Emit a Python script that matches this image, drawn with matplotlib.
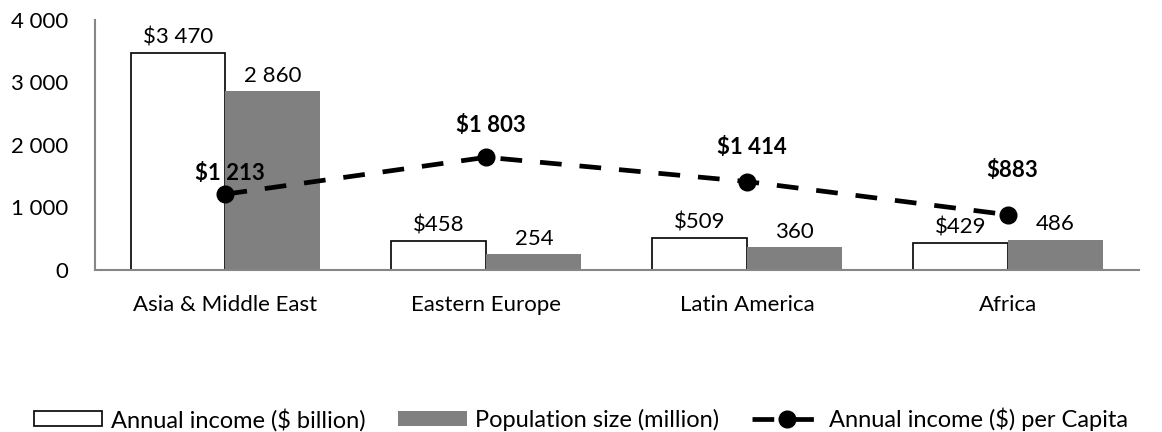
import matplotlib
matplotlib.use("Agg")
import matplotlib.pyplot as plt
import numpy as np
from matplotlib.patches import Patch
from matplotlib.lines import Line2D

regions = ["Asia & Middle East", "Eastern Europe", "Latin America", "Africa"]
income_bn = [3470, 458, 509, 429]
population_m = [2860, 254, 360, 486]
income_per_capita = [1213, 1803, 1414, 883]
y_ticks = [0, 1000, 2000, 3000, 4000]

# vertical gap (points) between each per-capita marker and its label
per_capita_label_gap = [7, 15, 17, 24]


def spaced(v):
    return f"{v:,}".replace(",", " ")


plt.rcParams["font.family"] = ["Lato", "DejaVu Sans"]
plt.rcParams["font.size"] = 16

fig = plt.figure(figsize=(11.62, 4.32), dpi=100)
ax = fig.add_axes([0.0818, 0.375, 0.898, 0.579])

x = np.arange(len(regions))
w = 0.364
axis_grey = "#868686"
bar_grey = "#808080"
line_kw = dict(color="black", lw=3.4, dashes=(4.6, 3.8), dash_capstyle="butt",
               marker="o", markersize=12)

ax.bar(x - w / 2, income_bn, w, color="white", edgecolor="black", linewidth=1.2, zorder=2)
ax.bar(x + w / 2, population_m, w, color=bar_grey, edgecolor="none", zorder=2)
ax.plot(x, income_per_capita, zorder=4, **line_kw)

for xi, v in zip(x, income_bn):
    ax.annotate("$" + spaced(v), (xi - w / 2, v), xytext=(0, 4), textcoords="offset points",
                ha="center", va="bottom")
for xi, v in zip(x, population_m):
    ax.annotate(spaced(v), (xi + w / 2, v), xytext=(0, 4), textcoords="offset points",
                ha="center", va="bottom")
for xi, v, gap in zip(x, income_per_capita, per_capita_label_gap):
    ax.annotate("$" + spaced(v), (xi, v), xytext=(3, gap), textcoords="offset points",
                ha="center", va="bottom", fontweight="bold")

ax.set_xlim(-0.5, len(regions) - 0.5)
ax.set_ylim(0, 4000)
ax.set_yticks(y_ticks)
ax.set_yticklabels([spaced(t) for t in y_ticks])
ax.set_xticks(x)
ax.set_xticklabels(regions)
ax.tick_params(axis="both", length=0)
ax.tick_params(axis="x", pad=18)
ax.tick_params(axis="y", pad=19)
for s in ("top", "right"):
    ax.spines[s].set_visible(False)
for s in ("left", "bottom"):
    ax.spines[s].set_color(axis_grey)
    ax.spines[s].set_linewidth(1.5)

handles = [
    Patch(facecolor="white", edgecolor="black", linewidth=1.2),
    Patch(facecolor=bar_grey, edgecolor="none"),
    Line2D([], [], **line_kw),
]
labels = ["Annual income ($ billion)", "Population size (million)", "Annual income ($) per Capita"]
fig.legend(handles, labels, loc="center", bbox_to_anchor=(0.5, 0.029), ncol=3,
           frameon=False, handlelength=2.9, handleheight=0.6, handletextpad=0.36,
           columnspacing=1.4, fontsize=17, borderpad=0)

fig.savefig("out.png", dpi=100)
